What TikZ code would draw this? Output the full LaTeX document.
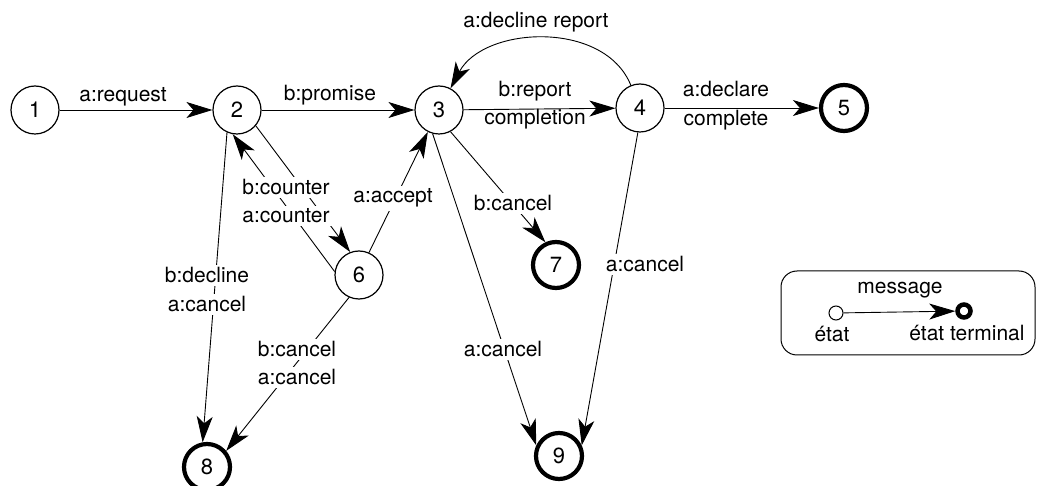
\documentclass[tikz,border=0pt]{standalone}
\usepackage{fontspec}
\setmainfont{TeX Gyre Heros}
\usetikzlibrary{arrows.meta}
\begin{document}
\begin{tikzpicture}[x=1pt,y=-1pt,
  font=\fontsize{21}{26}\selectfont,
  st/.style={circle,draw,line width=1.2pt,minimum size=48pt,inner sep=0pt,font=\fontsize{22}{26}\selectfont},
  term/.style={circle,draw,line width=4.2pt,minimum size=46pt,inner sep=0pt,font=\fontsize{22}{26}\selectfont},
  arr/.style={line width=0.9pt,-{Stealth[length=26pt,width=16pt,inset=7pt]}},
  lbl/.style={fill=white,inner sep=3pt,anchor=base},
  lblp/.style={inner sep=0pt,anchor=base},
]
\useasboundingbox (0,0) rectangle (1037,486);

% states
\node[st] (n1) at (35,110) {1};
\node[st] (n2) at (237,110) {2};
\node[st] (n3) at (439,110) {3};
\node[st] (n4) at (640,108) {4};
\node[term] (n5) at (844,108) {5};
\node[st] (n6) at (359,275) {6};
\node[term] (n7) at (556,265) {7};
\node[term] (n8) at (207,467) {8};
\node[term] (n9) at (559,456) {9};

% transitions
\draw[arr] (n1) -- (n2);
\draw[arr] (n2) -- (n3);
\draw[arr] (n3) -- (n4);
\draw[arr] (n4) -- (n5);
\draw[arr] (n4.112) to[out=112,in=62] (n3.62);
\draw[arr] (n2.-40) -- (n6.111);
\draw[arr] (n6.172) -- (n2.-100);
\draw[arr] (n6.66) -- (n3.-117);
\draw[arr] (n3.-62) -- (n7.115);
\draw[arr] (n3.-105) -- (n9.155);
\draw[arr] (n4.-95) -- (n9.25);
\draw[arr] (n2.-114) -- (n8.100);
\draw[arr] (n6.-114) -- (n8.40);

% labels
\node[lblp] (la) at (123,102) {a:request};
\node[lblp] (lb) at (330,101) {b:promise};
\node[lblp] (lc) at (535,97) {b:report};
\node[lblp] (ld) at (535,125) {completion};
\node[lblp] (le) at (726,97) {a:declare};
\node[lblp] (lf) at (726,126) {complete};
\node[lblp] (lg) at (536,28) {a:decline report};
\node[lbl] (lh) at (286,195) {b:counter};
\node[lbl] (li) at (286,223) {a:counter};
\node[lbl] (lj) at (393,203) {a:accept};
\node[lbl] (lk) at (207,283) {b:decline};
\node[lbl] (ll) at (207,312) {a:cancel};
\node[lbl] (lm) at (297,357) {b:cancel};
\node[lbl] (ln) at (297,385) {a:cancel};
\node[lbl] (lo) at (513,211) {b:cancel};
\node[lbl] (lp) at (503,357) {a:cancel};
\node[lbl] (lq) at (645,272) {a:cancel};

% legend
\draw[line width=1pt,rounded corners=16pt] (781,271) rectangle (1035,355);
\node[circle,draw,line width=1pt,minimum size=14pt,inner sep=0pt] (ls) at (836,313) {};
\node[circle,draw,line width=4.5pt,minimum size=13pt,inner sep=0pt] (lt) at (964,311) {};
\draw[arr] (ls) -- (lt);
\node[lblp] (lu) at (900,294) {message};
\node[lblp] (lv) at (832,342) {état};
\node[lblp] (lw) at (967,341) {état terminal};
\end{tikzpicture}
\end{document}
